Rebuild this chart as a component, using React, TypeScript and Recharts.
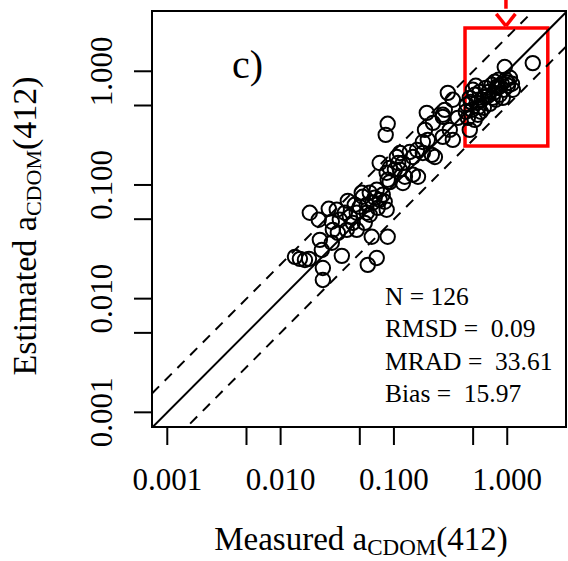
import React from "react";
import { ScatterChart, Scatter, XAxis, YAxis, ReferenceLine, ReferenceArea } from "recharts";

const measured = [
  0.0134, 0.0148, 0.0164, 0.0178, 0.0181, 0.0217, 0.0222, 0.0231, 0.0236, 0.0236,
  0.0266, 0.0283, 0.0289, 0.0283, 0.0347, 0.032, 0.0333, 0.0369, 0.0392, 0.0408,
  0.0433, 0.0384, 0.047, 0.047, 0.05, 0.052, 0.0531, 0.0313, 0.0576, 0.0553,
  0.0588, 0.0705, 0.0637, 0.0881, 0.0612, 0.0705, 0.0749, 0.0796, 0.065, 0.0863,
  0.0576, 0.0677, 0.0451, 0.0612, 0.0719, 0.0829, 0.0881, 0.0846, 0.0918, 0.0863,
  0.102, 0.109, 0.113, 0.113, 0.125, 0.138, 0.147, 0.16, 0.163, 0.0881,
  0.0749, 0.106, 0.12, 0.147, 0.18, 0.216, 0.0918, 0.12, 0.18, 0.188,
  0.221, 0.27, 0.311, 0.27, 0.331, 0.23, 0.195, 0.27, 0.199, 0.299,
  0.331, 0.467, 0.281, 0.366,
  0.44, 0.467, 0.487, 0.517, 0.539, 0.55, 0.572, 0.596, 0.621, 0.646,
  0.673, 0.701, 0.73, 0.761, 0.792, 0.825, 0.859, 0.895, 0.932, 0.971,
  1.014, 1.056, 1.1, 0.808, 1.014, 0.497, 0.449, 0.517, 0.584, 0.687,
  0.776, 0.633, 0.561, 0.477, 0.431, 0.745, 0.913, 0.842, 1.12, 0.528,
  0.951, 1.68,
];

const estimated = [
  0.0233, 0.0224, 0.0219, 0.0224, 0.0569, 0.0494, 0.0329, 0.0268, 0.0186, 0.0146,
  0.0617, 0.0474, 0.0403, 0.031, 0.0238, 0.0379, 0.0494, 0.0569, 0.0725, 0.0525,
  0.0464, 0.0403, 0.0569, 0.0403, 0.0642, 0.0855, 0.0787, 0.0605, 0.0569, 0.0464,
  0.0198, 0.0228, 0.035, 0.035, 0.0855, 0.0908, 0.074, 0.082, 0.0697, 0.0605,
  0.0669, 0.0771, 0.0669, 0.0547, 0.0629, 0.0711, 0.345, 0.276, 0.141, 0.128,
  0.136, 0.156, 0.191, 0.136, 0.118, 0.195, 0.123, 0.203, 0.118, 0.111,
  0.156, 0.176, 0.156, 0.176, 0.191, 0.184, 0.106, 0.104, 0.239, 0.305,
  0.352, 0.397, 0.305, 0.265, 0.249, 0.176, 0.431, 0.414, 0.249, 0.646,
  0.561, 0.305, 0.458, 0.389,
  0.507, 0.584, 0.458, 0.621, 0.527, 0.414, 0.659, 0.561, 0.477, 0.715,
  0.608, 0.517, 0.761, 0.646, 0.561, 0.715, 0.621, 0.776, 0.687, 0.842,
  0.745, 0.877, 0.776, 0.73, 0.792, 0.687, 0.389, 0.374, 0.44, 0.659,
  0.808, 0.596, 0.486, 0.538, 0.44, 0.584, 0.584, 0.842, 0.687, 0.745,
  1.09, 1.18,
];

const axisTicks = [0.001, 0.005, 0.01, 0.05, 0.1, 0.5, 1];
const decadeTicks = [0.001, 0.01, 0.1, 1];
const decadeLabels = ["0.001", "0.010", "0.100", "1.000"];
const statLines = ["N = 126", "RMSD =  0.09", "MRAD =  33.61", "Bias =  15.97"];

const xDomain: [number, number] = [0.000733, 3.3];
const yDomain: [number, number] = [0.000743, 3.39];
const ratio = 2; // dashed lines at 2x and 1/2x

// highlighted box (measured 0.42-2.3, estimated 0.22-2.4)
const boxX = [0.424, 2.28];
const boxY = [0.22, 2.4];

const serif = "'Liberation Serif', 'Times New Roman', serif";
const points = measured.map((x, i) => ({ x, y: estimated[i] }));

function labelFor(v: number) {
  const i = decadeTicks.indexOf(v);
  return i >= 0 ? decadeLabels[i] : null;
}

function XTick(props: any) {
  const { x, y, payload } = props;
  const label = labelFor(payload.value);
  if (!label) return <g />;
  return (
    <text x={x} y={y} dy={43} textAnchor="middle" fontSize={31} fontFamily={serif} fill="#000">
      {label}
    </text>
  );
}

function YTick(props: any) {
  const { x, y, payload } = props;
  const label = labelFor(payload.value);
  if (!label) return <g />;
  const bx = x - 20;
  return (
    <text
      x={bx}
      y={y}
      textAnchor="middle"
      fontSize={31}
      fontFamily={serif}
      fill="#000"
      transform={`rotate(-90, ${bx}, ${y})`}
    >
      {label}
    </text>
  );
}

const ring = (p: any) => (
  <circle cx={p.cx} cy={p.cy} r={7.2} fill="none" stroke="#000" strokeWidth={2} />
);

export default function App() {
  return (
    <div style={{ position: "absolute", left: 0, top: 0, width: 568, height: 561, background: "#fff" }}>
      <ScatterChart width={568} height={561} margin={{ top: 11, right: 2, bottom: 0, left: 0 }}>
        <XAxis
          type="number"
          dataKey="x"
          scale="log"
          domain={xDomain}
          allowDataOverflow
          ticks={axisTicks}
          interval={0}
          height={134}
          tickSize={18}
          axisLine={false}
          tickLine={{ stroke: "#000", strokeWidth: 2 }}
          tick={<XTick />}
        />
        <YAxis
          type="number"
          dataKey="y"
          scale="log"
          domain={yDomain}
          allowDataOverflow
          ticks={axisTicks}
          interval={0}
          width={152}
          tickSize={18}
          axisLine={false}
          tickLine={{ stroke: "#000", strokeWidth: 2 }}
          tick={<YTick />}
        />
        <ReferenceArea
          x1={xDomain[0]}
          x2={xDomain[1]}
          y1={yDomain[0]}
          y2={yDomain[1]}
          fill="none"
          fillOpacity={0}
          stroke="#000"
          strokeWidth={2}
          ifOverflow="visible"
        />
        <ReferenceLine
          segment={[{ x: xDomain[0], y: xDomain[0] }, { x: xDomain[1], y: xDomain[1] }]}
          stroke="#000"
          strokeWidth={2}
          ifOverflow="hidden"
        />
        <ReferenceLine
          segment={[{ x: xDomain[0], y: xDomain[0] * ratio }, { x: xDomain[1], y: xDomain[1] * ratio }]}
          stroke="#000"
          strokeWidth={2}
          strokeDasharray="10 8"
          ifOverflow="hidden"
        />
        <ReferenceLine
          segment={[{ x: xDomain[0], y: xDomain[0] / ratio }, { x: xDomain[1], y: xDomain[1] / ratio }]}
          stroke="#000"
          strokeWidth={2}
          strokeDasharray="10 8"
          ifOverflow="hidden"
        />
        <Scatter data={points} shape={ring} isAnimationActive={false} />
        <ReferenceArea
          x1={boxX[0]}
          x2={boxX[1]}
          y1={boxY[0]}
          y2={boxY[1]}
          fill="none"
          fillOpacity={0}
          stroke="#ff0000"
          strokeWidth={3.5}
          ifOverflow="visible"
        />
        {/* red arrow pointing down at the box */}
        <ReferenceLine
          segment={[{ x: 0.8, y: 3.2 }, { x: 0.974, y: 2.5 }]}
          stroke="#ff0000"
          strokeWidth={3.5}
          ifOverflow="visible"
        />
        <ReferenceLine
          segment={[{ x: 1.18, y: 3.2 }, { x: 0.974, y: 2.5 }]}
          stroke="#ff0000"
          strokeWidth={3.5}
          ifOverflow="visible"
        />
        <ReferenceLine
          segment={[{ x: 0.974, y: 4.6 }, { x: 0.974, y: 3.55 }]}
          stroke="#ff0000"
          strokeWidth={3.5}
          ifOverflow="visible"
        />
      </ScatterChart>
      <svg
        width={568}
        height={561}
        style={{ position: "absolute", left: 0, top: 0, pointerEvents: "none" }}
      >
        <text x={232} y={78} fontSize={40} fontFamily={serif} fill="#000">
          c)
        </text>
        {statLines.map((s, i) => (
          <text
            key={s}
            x={385}
            y={305 + i * 32.3}
            fontSize={25.5}
            fontFamily={serif}
            fill="#000"
            style={{ whiteSpace: "pre" }}
          >
            {s}
          </text>
        ))}
        <text x={361} y={550} textAnchor="middle" fontSize={33} fontFamily={serif} fill="#000">
          Measured a
          <tspan fontSize={23} dy={5}>CDOM</tspan>
          <tspan dy={-5}>(412)</tspan>
        </text>
        <text
          x={36}
          y={226}
          textAnchor="middle"
          fontSize={34}
          fontFamily={serif}
          fill="#000"
          transform="rotate(-90, 36, 226)"
        >
          Estimated a
          <tspan fontSize={22} dy={5}>CDOM</tspan>
          <tspan dy={-5}>(412)</tspan>
        </text>
      </svg>
    </div>
  );
}
